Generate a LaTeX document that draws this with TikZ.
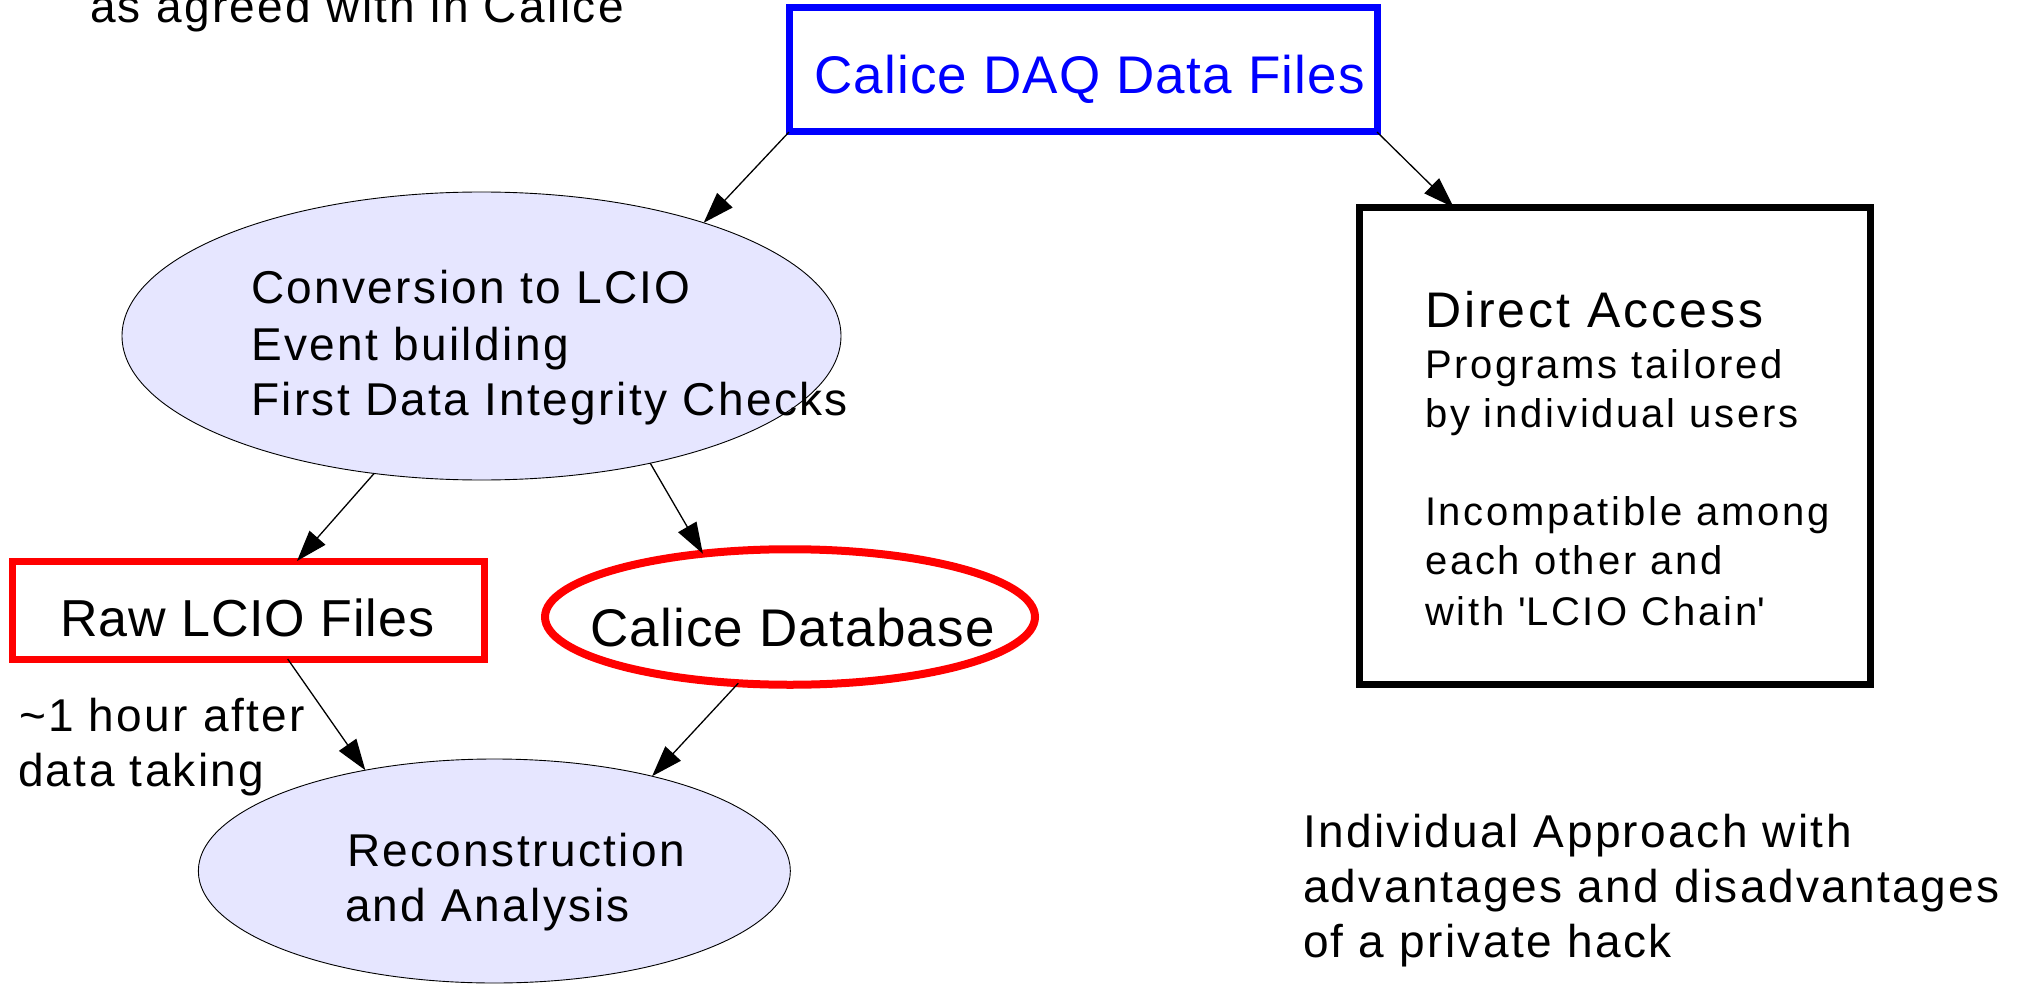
\documentclass[tikz,border=0pt]{standalone}
\usepackage{fontspec}
\setmainfont{Liberation Sans}
\usetikzlibrary{arrows.meta,shapes.geometric}
\definecolor{lav}{RGB}{230,230,255}
\definecolor{pblue}{RGB}{0,0,255}
\definecolor{pred}{RGB}{255,0,0}
\newcommand{\fz}[2]{\fontsize{#1pt}{#1pt}\selectfont\addfontfeature{LetterSpace=#2}}
\begin{document}
\begin{tikzpicture}[x=1pt,y=-1pt,
  lbl/.style={inner sep=0pt, outer sep=0pt, anchor=base west},
  tbig/.style={lbl, font=\fz{53}{2.3}},
  tmed/.style={lbl, font=\fz{46}{5.2}},
  tsml/.style={lbl, font=\fz{40}{7}},
  thickbox/.style={rectangle, line width=7pt, inner sep=0pt, outer sep=0pt},
  bubble/.style={ellipse, draw=black, line width=0.9pt, fill=lav, inner sep=0pt, outer sep=0pt},
  ring/.style={ellipse, draw=pred, line width=8pt, fill=white, inner sep=0pt, outer sep=0pt},
  conn/.style={line width=1.3pt, -{Triangle[length=31pt,width=21pt]}},
]
\useasboundingbox (0,0) rectangle (2020,984);
% shapes
\node[thickbox, draw=pblue, minimum width=588pt, minimum height=124pt] (daq) at (1083,70) {};
\node[bubble, minimum width=719pt, minimum height=288pt] (conv) at (481.5,336) {};
\node[thickbox, draw=black, minimum width=511pt, minimum height=476.5pt] (direct) at (1614.5,445.75) {};
\node[thickbox, draw=pred, minimum width=472pt, minimum height=98pt] (raw) at (248,610) {};
\node[ring, minimum width=490pt, minimum height=135.5pt] (db) at (790,617) {};
\node[bubble, minimum width=592pt, minimum height=224pt] (recon) at (494.35,871) {};
% texts
\node[tmed] (agreed) at (90,23) {as agreed with in Calice};
\node[tbig, text=pblue] (daqt) at (814,94) {Calice DAQ Data Files};
\node[tmed] (c1) at (251,303) {Conversion to LCIO};
\node[tmed] (c2) at (251,360) {Event building};
\node[tmed] (c3) at (251,415) {First Data Integrity Checks};
\node[lbl, font=\fz{52}{1.8}] (rawt) at (60,636) {Raw LCIO Files};
\node[tbig] (dbt) at (590,646) {Calice Database};
\node[tmed] (h1) at (19,731) {\textasciitilde 1 hour after};
\node[tmed] (h2) at (18,786) {data taking};
\node[tmed] (r1) at (347,866) {Reconstruction};
\node[tmed] (r2) at (345,921) {and Analysis};
\node[lbl, font=\fz{50}{6}] (dat) at (1425,327) {Direct Access};
\node[tsml] (d1) at (1425,378) {Programs tailored};
\node[tsml] (d2) at (1425,427) {by individual users};
\node[tsml] (d3) at (1425,525) {Incompatible among};
\node[tsml] (d4) at (1425,574) {each other and};
\node[tsml] (d5) at (1425,625) {with \textquotesingle LCIO Chain\textquotesingle};
\node[tmed] (i1) at (1303,847) {Individual Approach with};
\node[tmed] (i2) at (1303,902) {advantages and disadvantages};
\node[tmed] (i3) at (1303,957) {of a private hack};
% connectors
\draw[conn] (daq.south west) -- (conv.27);
\draw[conn] (daq.south east) -- (direct.124.3);
\draw[conn] (conv.232.7) -- (raw.45);
\draw[conn] (conv.-37.9) -- (db.144.8);
\draw[conn] (raw.-51) -- (recon.142.7);
\draw[conn] (db.-128.7) -- (recon.31.5);
\end{tikzpicture}
\end{document}
